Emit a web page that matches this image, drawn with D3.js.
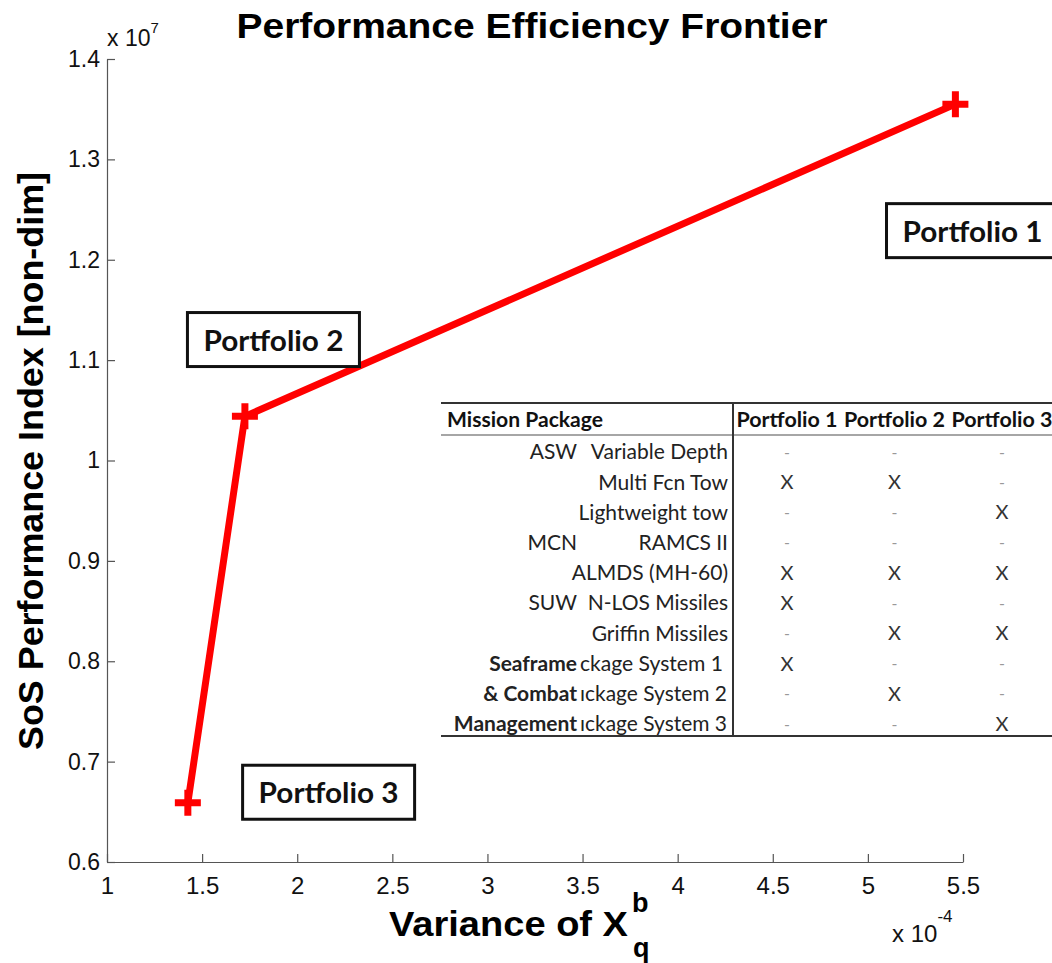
<!DOCTYPE html>
<html>
<head>
<meta charset="utf-8">
<script src="https://cdn.jsdelivr.net/npm/d3@7"></script>
<style>
  body { margin: 0; background: #fff; }
  text { font-family: "Liberation Sans", Arial, sans-serif; }
  .tbl text { font-family: Lato, "Open Sans", sans-serif; }
</style>
</head>
<body>
<div id="chart"></div>
<script>
// frontier points (variance of X, performance index)
const portfolios = ['Portfolio 1', 'Portfolio 2', 'Portfolio 3'];
const variance = [5.46e-4, 1.725e-4, 1.425e-4];
const performance = [1.355e7, 1.044e7, 0.659e7];

// tick labels
const xTicks = [1, 1.5, 2, 2.5, 3, 3.5, 4, 4.5, 5, 5.5];
const yTicks = [0.6, 0.7, 0.8, 0.9, 1, 1.1, 1.2, 1.3, 1.4];

// mission package table (the last three item names are cut off in the original)
const missionArea = ['ASW', '', '', 'MCN', '', 'SUW', '', 'Seaframe', '& Combat', 'Management'];
const missionItem = ['Variable Depth', 'Multi Fcn Tow', 'Lightweight tow', 'RAMCS II', 'ALMDS (MH-60)',
  'N-LOS Missiles', 'Griffin Missiles', 'ckage System 1', '\u0131ckage System 2', '\u0131ckage System 3'];
const p1Marks = ['-', 'X', '-', '-', 'X', 'X', '-', 'X', '-', '-'];
const p2Marks = ['-', 'X', '-', '-', 'X', '-', 'X', '-', 'X', '-'];
const p3Marks = ['-', '-', 'X', '-', 'X', '-', 'X', '-', '-', 'X'];

const width = 1052, height = 963;
const svg = d3.select('#chart').append('svg')
  .attr('width', width)
  .attr('height', height);

// scales
const x = d3.scaleLinear().domain([1e-4, 5.5e-4]).range([107, 963]);
const y = d3.scaleLinear().domain([0.6e7, 1.4e7]).range([862, 59]);

// axes (only left and bottom, ticks pointing inward)
const xAxis = d3.axisBottom(x)
  .tickValues(xTicks.map(v => v * 1e-4))
  .tickFormat(d => +(d / 1e-4).toFixed(1))
  .tickSizeInner(-8).tickSizeOuter(0).tickPadding(15);
const yAxis = d3.axisLeft(y)
  .tickValues(yTicks.map(v => v * 1e7))
  .tickFormat(d => +(d / 1e7).toFixed(1))
  .tickSizeInner(-8).tickSizeOuter(0).tickPadding(7);

const gx = svg.append('g').attr('transform', 'translate(0,862)').call(xAxis);
const gy = svg.append('g').attr('transform', 'translate(107,0)').call(yAxis);
[gx, gy].forEach(g => {
  g.select('.domain').attr('stroke', '#555').attr('stroke-width', 1.2);
  g.selectAll('.tick line').attr('stroke', '#555').attr('stroke-width', 1.2);
  g.selectAll('.tick text').attr('fill', '#111').attr('font-family', '"Liberation Sans", Arial, sans-serif');
});
gx.selectAll('.tick text').attr('font-size', 24);
gy.selectAll('.tick text').attr('font-size', 23);

// exponents
const e7 = svg.append('text').attr('x', 107).attr('y', 46).attr('font-size', 23).attr('fill', '#111');
e7.append('tspan').text('x 10');
e7.append('tspan').attr('dy', -13).attr('font-size', 15).text('7');
const e4 = svg.append('text').attr('x', 892).attr('y', 942).attr('font-size', 24).attr('fill', '#111');
e4.append('tspan').text('x 10');
e4.append('tspan').attr('dy', -20).attr('font-size', 17).text('-4');

// title
svg.append('text')
  .attr('x', 532).attr('y', 38)
  .attr('text-anchor', 'middle')
  .attr('font-size', 35).attr('font-weight', 'bold')
  .attr('textLength', 591).attr('lengthAdjust', 'spacingAndGlyphs')
  .text('Performance Efficiency Frontier');

// axis titles
svg.append('text')
  .attr('transform', 'translate(43,461) rotate(-90)')
  .attr('text-anchor', 'middle')
  .attr('font-size', 35).attr('font-weight', 'bold')
  .attr('textLength', 578).attr('lengthAdjust', 'spacingAndGlyphs')
  .text('SoS Performance Index [non-dim]');

svg.append('text')
  .attr('x', 389).attr('y', 936)
  .attr('font-size', 35).attr('font-weight', 'bold')
  .attr('textLength', 239).attr('lengthAdjust', 'spacingAndGlyphs')
  .text('Variance of X');
svg.append('text').attr('x', 632).attr('y', 912)
  .attr('font-size', 27).attr('font-weight', 'bold').text('b');
svg.append('text').attr('x', 633).attr('y', 957)
  .attr('font-size', 27).attr('font-weight', 'bold').text('q');

// frontier line
const pts = portfolios.map((p, i) => ({ name: p, vx: variance[i], vy: performance[i] }));
const line = d3.line().x(d => x(d.vx)).y(d => y(d.vy));
svg.append('path')
  .datum(pts)
  .attr('d', line)
  .attr('fill', 'none')
  .attr('stroke', '#ff0000')
  .attr('stroke-width', 7)
  .attr('stroke-linejoin', 'round');

svg.selectAll('.marker')
  .data(pts)
  .enter().append('path')
    .attr('class', 'marker')
    .attr('transform', d => `translate(${x(d.vx)},${y(d.vy)})`)
    .attr('d', 'M-13,0H13M0,-13V13')
    .attr('stroke', '#ff0000')
    .attr('stroke-width', 7);

// portfolio label boxes, centred in data units
const boxAt = [[5.55e-4, 1.229e7], [1.875e-4, 1.1205e7], [2.165e-4, 0.6695e7]];
pts.forEach((d, i) => {
  const cx = x(boxAt[i][0]), cy = y(boxAt[i][1]);
  const g = svg.append('g').attr('class', 'tbl').attr('transform', `translate(${cx},${cy})`);
  g.append('rect')
    .attr('x', -86).attr('y', -27).attr('width', 172).attr('height', 54)
    .attr('fill', '#fff').attr('stroke', '#111').attr('stroke-width', 3);
  g.append('text')
    .attr('text-anchor', 'middle').attr('y', 11)
    .attr('font-size', 29).attr('font-weight', 'bold').attr('fill', '#111')
    .attr('textLength', 140).attr('lengthAdjust', 'spacingAndGlyphs')
    .text(d.name);
});

// mission package table
const tbl = svg.append('g').attr('class', 'tbl');
const tLeft = 441, tDiv = 733, tTop = 403, tHead = 435, tBottom = 736;
const rowY = d3.scalePoint().domain(d3.range(missionItem.length)).range([452, 724]);
const colX = d3.scalePoint().domain(portfolios).range([787, 1002]);

tbl.append('rect').attr('x', tLeft).attr('y', tTop).attr('width', width - tLeft).attr('height', tBottom - tTop)
  .attr('fill', '#fff');

tbl.append('text')
  .attr('x', 447).attr('y', 427)
  .attr('font-size', 21).attr('font-weight', 'bold').attr('fill', '#111')
  .attr('textLength', 156).attr('lengthAdjust', 'spacingAndGlyphs')
  .text('Mission Package');
tbl.selectAll('.colhead')
  .data(portfolios)
  .enter().append('text')
    .attr('class', 'colhead')
    .attr('x', d => colX(d)).attr('y', 427)
    .attr('text-anchor', 'middle')
    .attr('font-size', 21).attr('font-weight', 'bold').attr('fill', '#111')
    .attr('textLength', 101).attr('lengthAdjust', 'spacingAndGlyphs')
    .text(d => d);

const rows = tbl.selectAll('.row')
  .data(missionItem.map((m, i) => ({ area: missionArea[i], item: m, marks: [p1Marks[i], p2Marks[i], p3Marks[i]], i })))
  .enter().append('g')
    .attr('class', 'row')
    .attr('transform', d => `translate(0,${rowY(d.i)})`);

rows.append('text')
  .attr('x', 577).attr('dy', '0.35em')
  .attr('text-anchor', 'end')
  .attr('font-size', 21)
  .attr('font-weight', d => d.i >= 7 ? 'bold' : 'normal')
  .attr('fill', '#222')
  .text(d => d.area);

rows.append('text')
  .attr('x', d => d.i >= 7 ? 580 : 728).attr('dy', '0.35em')
  .attr('text-anchor', d => d.i >= 7 ? 'start' : 'end')
  .attr('font-size', 21).attr('fill', '#222')
  .attr('textLength', d => d.i >= 7 ? (d.i === 7 ? 143 : 147) : null)
  .attr('lengthAdjust', 'spacingAndGlyphs')
  .text(d => d.item);

rows.selectAll('.mark')
  .data(d => d.marks.map((m, j) => ({ m, p: portfolios[j] })))
  .enter().append('text')
    .attr('class', 'mark')
    .attr('x', d => colX(d.p)).attr('dy', '0.35em')
    .attr('text-anchor', 'middle')
    .attr('font-size', d => d.m === 'X' ? 20 : 16)
    .attr('fill', d => d.m === 'X' ? '#333' : '#999')
    .text(d => d.m);

// table rules
tbl.append('line').attr('x1', tLeft).attr('x2', width).attr('y1', tTop).attr('y2', tTop)
  .attr('stroke', '#333').attr('stroke-width', 2);
tbl.append('line').attr('x1', tLeft).attr('x2', width).attr('y1', tHead).attr('y2', tHead)
  .attr('stroke', '#888').attr('stroke-width', 1.5);
tbl.append('line').attr('x1', tLeft).attr('x2', width).attr('y1', tBottom).attr('y2', tBottom)
  .attr('stroke', '#333').attr('stroke-width', 2);
tbl.append('line').attr('x1', tDiv).attr('x2', tDiv).attr('y1', tTop).attr('y2', tBottom)
  .attr('stroke', '#333').attr('stroke-width', 2);
</script>
</body>
</html>
